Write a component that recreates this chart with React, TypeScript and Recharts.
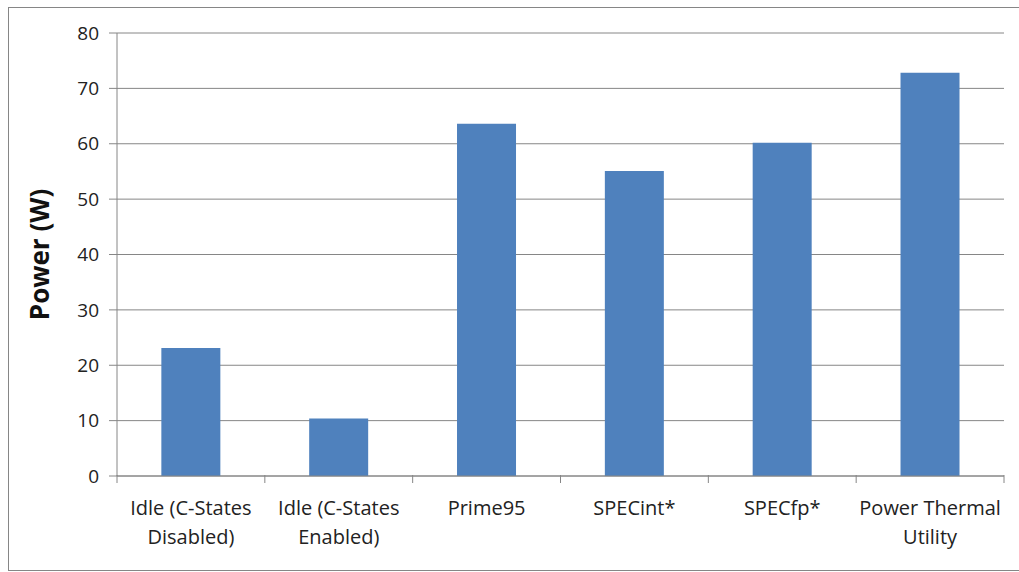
import { BarChart, Bar, XAxis, YAxis, CartesianGrid } from "recharts";

const categories = [
  "Idle (C-States Disabled)",
  "Idle (C-States Enabled)",
  "Prime95",
  "SPECint*",
  "SPECfp*",
  "Power Thermal Utility",
];
// power draw per workload, watts
const power = [23.1, 10.4, 63.6, 55.1, 60.2, 72.8];
const yTicks = [0, 10, 20, 30, 40, 50, 60, 70, 80];

// label wrapping as in the source chart
const labelLines: Record<string, string[]> = {
  "Idle (C-States Disabled)": ["Idle (C-States", "Disabled)"],
  "Idle (C-States Enabled)": ["Idle (C-States", "Enabled)"],
  "Power Thermal Utility": ["Power Thermal", "Utility"],
};

const data = categories.map((name, i) => ({ name, power: power[i] }));

const FONT = "'Open Sans', Lato, sans-serif";
const GRID = "#868686";

function CategoryTick(props: any) {
  const { x, y, payload, index } = props;
  const half = payload?.offset ?? 74;
  const lines = labelLines[payload.value] ?? [payload.value];
  return (
    <g>
      <line x1={x - half} y1={y - 9} x2={x - half} y2={y - 1} stroke={GRID} />
      {index === categories.length - 1 && (
        <line x1={x + half} y1={y - 9} x2={x + half} y2={y - 1} stroke={GRID} />
      )}
      <text x={x} y={y + 31} textAnchor="middle" fontSize={20} fill="#222" fontFamily={FONT}>
        {lines.map((l, i) => (
          <tspan key={i} x={x} dy={i === 0 ? 0 : 29}>
            {l}
          </tspan>
        ))}
      </text>
    </g>
  );
}

export default function App() {
  return (
    <div style={{ position: "absolute", left: 0, top: 0, width: 1019, height: 572, background: "#fff" }}>
      <div
        style={{
          position: "absolute",
          left: 8,
          top: 7,
          width: 1030,
          height: 562,
          border: "1px solid #868686",
        }}
      />
      <div style={{ position: "absolute", left: 0, top: 0 }}>
        <BarChart
          width={1019}
          height={572}
          data={data}
          margin={{ top: 33, right: 15, left: 37, bottom: 16 }}
          barCategoryGap="30%"
        >
          <CartesianGrid vertical={false} stroke={GRID} strokeWidth={1} />
          <XAxis
            dataKey="name"
            interval={0}
            height={80}
            axisLine={{ stroke: GRID }}
            tickLine={false}
            tick={<CategoryTick />}
          />
          <YAxis
            domain={[0, 80]}
            ticks={yTicks}
            width={80}
            axisLine={{ stroke: GRID }}
            tickLine={{ stroke: GRID }}
            tickSize={8}
            tickMargin={10}
            tick={{ fontSize: 19, fill: "#222", fontFamily: FONT }}
            label={{
              value: "Power (W)",
              angle: -90,
              position: "insideLeft",
              offset: 3,
              style: { fontSize: 26, fontWeight: "bold", fill: "#111", fontFamily: FONT, textAnchor: "middle" },
            }}
          />
          <Bar dataKey="power" fill="#4F81BD" isAnimationActive={false} />
        </BarChart>
      </div>
    </div>
  );
}
